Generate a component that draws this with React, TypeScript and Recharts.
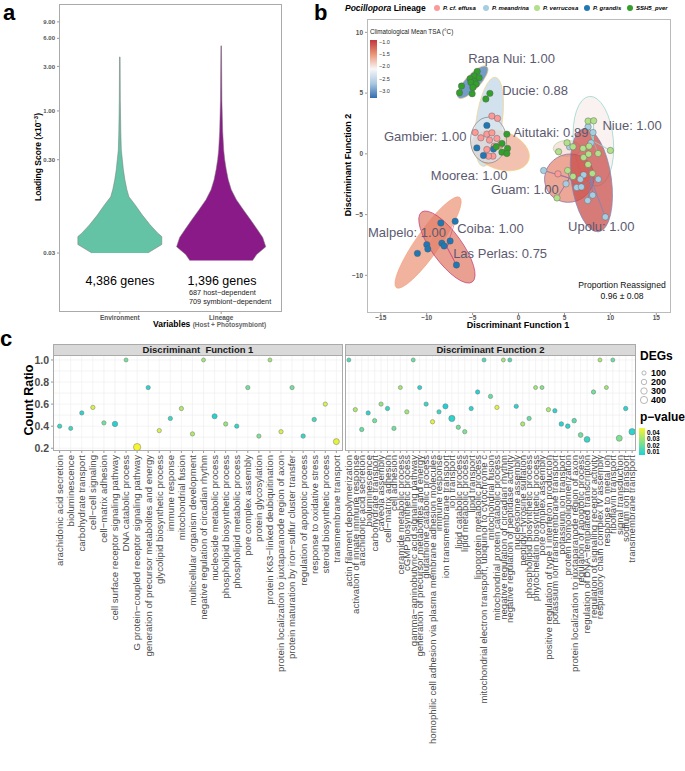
import React from "react";
import { ComposedChart, Area, XAxis, YAxis, ScatterChart, Scatter, CartesianGrid } from "recharts";

const FONT = "'Liberation Sans', Arial, Helvetica, sans-serif";

// ---------- panel a : violins ----------
const violinNames = ["Environment", "Lineage"];
const envLevels = [3.8, 1.3, 0.58, 0.38, 0.3, 0.235, 0.183, 0.143, 0.12, 0.099, 0.077, 0.06, 0.049, 0.045, 0.037, 0.03];
const envHalf = [0.003, 0.005, 0.01, 0.015, 0.025, 0.035, 0.05, 0.07, 0.09, 0.15, 0.22, 0.3, 0.375, 0.414, 0.414, 0.276];
const linLevels = [5.0, 1.3, 0.6, 0.38, 0.3, 0.235, 0.183, 0.143, 0.112, 0.087, 0.068, 0.053, 0.044, 0.035, 0.029, 0.025];
const linHalf = [0.003, 0.007, 0.015, 0.025, 0.035, 0.05, 0.07, 0.1, 0.15, 0.22, 0.29, 0.36, 0.41, 0.44, 0.35, 0.31];
const loadingTicks = [0.03, 0.3, 1, 3, 6, 9];
const geneCounts = ["4,386 genes", "1,396 genes"];
const lineageSplit = ["687 host\u2212dependent", "709 symbiont\u2212dependent"];

const envData = envLevels.map((y, i) => ({ y, w: [1 - envHalf[i], 1 + envHalf[i]] }));
const linData = linLevels.map((y, i) => ({ y, w: [2 - linHalf[i], 2 + linHalf[i]] }));

// ---------- panel b : DAPC ----------
const lineages = ["P. cf. effusa", "P. meandrina", "P. verrucosa", "P. grandis", "SSH5_pver"];
const lineageColors = ["#FB9A99", "#A6CEE3", "#B2DF8A", "#1F78B4", "#33A02C"];

const effusaPts = [
  { x: -2.9, y: 3.11 }, { x: -2.29, y: 2.92 }, { x: -4.72, y: 1.76 }, { x: -4.1, y: 1.32 }, { x: -3.45, y: 1.62 },
  { x: -2.9, y: 1.73 }, { x: -3.16, y: 1.13 }, { x: -2.36, y: 1.27 }, { x: -2.65, y: 0.63 }, { x: -3.45, y: 0.36 },
  { x: -2.79, y: -0.19 }, { x: -3.27, y: -0.19 }, { x: -2.0, y: 0.72 }, { x: 4.29, y: -1.65 },
];
const meandrinaPts = [
  { x: 7.57, y: 2.23 }, { x: 8.11, y: 1.76 }, { x: 5.56, y: 0.58 }, { x: 2.73, y: -1.37 }, { x: 7.09, y: -1.73 },
  { x: 8.69, y: -2.09 }, { x: 6.73, y: -2.09 }, { x: 5.17, y: -2.47 }, { x: 6.33, y: -2.77 }, { x: 6.84, y: -2.72 },
  { x: 8.07, y: -3.4 }, { x: 7.53, y: -3.84 }, { x: 9.45, y: -5.19 }, { x: 7.9, y: 0.9 },
];
const verrucosaPts = [
  { x: 7.57, y: 2.7 }, { x: 8.18, y: 2.72 }, { x: 5.28, y: 0.91 }, { x: 5.93, y: 0.58 }, { x: 7.02, y: 0.45 },
  { x: 7.68, y: 0.63 }, { x: 10.0, y: 0.28 }, { x: 4.36, y: 0.17 }, { x: 7.09, y: -0.3 }, { x: 8.66, y: 0.03 },
  { x: 7.63, y: -0.02 }, { x: 5.35, y: -1.37 }, { x: 5.93, y: -1.86 }, { x: 8.04, y: -1.62 }, { x: 4.19, y: -3.63 },
  { x: 7.57, y: -0.87 },
];
const grandisPts = [
  { x: -3.45, y: 2.34 }, { x: -4.54, y: 0.49 }, { x: -3.82, y: -0.13 }, { x: -2.73, y: 0.39 }, { x: -8.46, y: -5.69 },
  { x: -6.9, y: -5.55 }, { x: -9.99, y: -7.47 }, { x: -9.88, y: -7.83 }, { x: -8.35, y: -7.36 }, { x: -8.1, y: -7.58 },
  { x: -7.45, y: -7.17 }, { x: -11.01, y: -8.19 }, { x: -6.76, y: -9.15 },
];
const ssh5Pts = [
  { x: -4.5, y: 6.79 }, { x: -4.83, y: 6.41 }, { x: -5.27, y: 6.18 }, { x: -4.29, y: 6.27 }, { x: -4.8, y: 5.97 },
  { x: -5.19, y: 5.88 }, { x: -4.61, y: 5.75 }, { x: -6.21, y: 5.58 }, { x: -4.98, y: 5.47 }, { x: -6.43, y: 5.03 },
  { x: -5.05, y: 4.95 }, { x: -3.12, y: 4.98 }, { x: -3.56, y: 4.51 },
  { x: -1.27, y: 1.62 }, { x: -1.81, y: 0.86 }, { x: -1.2, y: 0.45 }, { x: -1.81, y: 0.14 }, { x: -1.27, y: 0.03 },
  { x: -2.43, y: 0.58 },
];
const lineagePts = [effusaPts, meandrinaPts, verrucosaPts, grandisPts, ssh5Pts];

const siteEllipses = [
  { site: "Niue", x: 8.15, y: 1.04, rx: 2.18, ry: 4.9, angle: -5, tsa: -1.95 },
  { site: "Ducie", x: -3.2, y: 2.64, rx: 1.42, ry: 4.9, angle: 8, tsa: -2.35 },
  { site: "Moorea", x: -1.98, y: 0.3, rx: 3.27, ry: 2.07, angle: 20, tsa: -1.6 },
  { site: "Gambier", x: -3.27, y: 1.13, rx: 1.96, ry: 2.5, angle: 0, tsa: -2.2 },
  { site: "Rapa Nui", x: -5.0, y: 5.9, rx: 2.3, ry: 0.8, angle: -47, tsa: -3.0 },
  { site: "Aitutaki", x: 5.28, y: 0.45, rx: 1.5, ry: 0.87, angle: 0, tsa: -1.85 },
  { site: "Guam", x: 5.53, y: -2.0, rx: 2.73, ry: 2.6, angle: -30, tsa: -1.4 },
  { site: "Upolu", x: 7.93, y: -2.17, rx: 2.18, ry: 5.67, angle: -8, tsa: -1.05 },
  { site: "Malpelo", x: -9.85, y: -7.3, rx: 6.0, ry: 1.3, angle: -55, tsa: -1.5 },
  { site: "Las Perlas", x: -7.8, y: -7.67, rx: 4.7, ry: 1.64, angle: 54, tsa: -1.35 },
];
const ellipseEdges: Record<string, string> = {
  Niue: "#8FD3C8", Ducie: "#F2D48A", Moorea: "#F5CF7A", Gambier: "#808080", "Rapa Nui": "#E8C57A",
  Aitutaki: "#A8D8A0", Guam: "#8E6FA8", Upolu: "#7A86B8", Malpelo: "#F4A582", "Las Perlas": "#C2417A",
};
// samples attached to each site centroid (thin spokes)
const siteSpokes = [
  { site: "Malpelo", members: [[-9.99, -7.47], [-9.88, -7.83], [-11.01, -8.19], [-8.46, -5.69]] },
  { site: "Las Perlas", members: [[-8.35, -7.36], [-8.1, -7.58], [-7.45, -7.17], [-6.76, -9.15], [-6.9, -5.55]] },
  { site: "Guam", members: [[5.17, -2.47], [6.33, -2.77], [2.73, -1.37], [4.19, -3.63], [5.35, -1.37], [4.29, -1.65]] },
  { site: "Upolu", members: [[8.69, -2.09], [8.07, -3.4], [7.53, -3.84], [9.45, -5.19], [6.84, -2.72], [8.04, -1.62], [7.57, -0.87]] },
  { site: "Niue", members: [[7.57, 2.23], [8.11, 1.76], [7.57, 2.7], [8.18, 2.72], [10.0, 0.28], [8.66, 0.03]] },
  { site: "Moorea", members: [[-1.27, 1.62], [-1.81, 0.86], [-1.2, 0.45], [-1.81, 0.14], [-2.0, 0.72], [-2.65, 0.63]] },
];
const siteLabels = [
  { text: "Rapa Nui: 1.00", x: -5.48, y: 7.86 },
  { text: "Ducie: 0.88", x: -1.78, y: 5.19 },
  { text: "Gambier: 1.00", x: -14.65, y: 1.4 },
  { text: "Aitutaki: 0.89", x: -0.58, y: 1.76 },
  { text: "Niue: 1.00", x: 9.13, y: 2.37 },
  { text: "Moorea: 1.00", x: -9.55, y: -1.76 },
  { text: "Guam: 1.00", x: -3.01, y: -2.93 },
  { text: "Upolu: 1.00", x: 5.39, y: -5.94 },
  { text: "Malpelo: 1.00", x: -16.39, y: -6.43 },
  { text: "Coiba: 1.00", x: -6.68, y: -6.1 },
  { text: "Las Perlas: 0.75", x: -7.12, y: -8.16 },
];
const tsaTicks = [-1.0, -1.5, -2.0, -2.5, -3.0];
const bXTicks = [-15, -10, -5, 0, 5, 10, 15];
const bYTicks = [-10, -5, 0, 5, 10];

// ---------- panel c : GO terms ----------
const df1Terms = [
  "arachidonic acid secretion", "bioluminescence", "carbohydrate transport", "cell\u2212cell signaling",
  "cell\u2212matrix adhesion", "cell surface receptor signaling pathway", "DNA catabolic process",
  "G protein\u2212coupled receptor signaling pathway", "generation of precursor metabolites and energy",
  "glycolipid biosynthetic process", "immune response", "mitochondrial fusion", "multicellular organism development",
  "negative regulation of circadian rhythm", "nucleoside metabolic process", "phospholipid biosynthetic process",
  "phospholipid metabolic process", "pore complex assembly", "protein glycosylation",
  "protein K63\u2212linked deubiquitination", "protein localization to juxtaparanode region of axon",
  "protein maturation by iron\u2212sulfur cluster transfer", "regulation of apoptotic process",
  "response to oxidative stress", "steroid biosynthetic process", "transmembrane transport",
];
const df1Ratio = [0.4, 0.38, 0.52, 0.57, 0.43, 0.42, 1.0, 0.21, 0.75, 0.36, 0.47, 0.56, 0.33, 1.0, 0.49, 0.42, 0.4, 0.75, 0.31, 1.0, 0.35, 0.75, 0.31, 0.46, 0.6, 0.26];
const df1P = [0.012, 0.013, 0.01, 0.04, 0.022, 0.009, 0.022, 0.045, 0.01, 0.04, 0.013, 0.033, 0.033, 0.03, 0.009, 0.028, 0.011, 0.022, 0.024, 0.03, 0.04, 0.022, 0.012, 0.014, 0.04, 0.042];
const df1Degs = [110, 100, 110, 110, 110, 200, 90, 420, 110, 110, 110, 110, 110, 90, 170, 110, 110, 110, 110, 90, 110, 110, 120, 120, 110, 260];

const df2Terms = [
  "actin filament depolymerization", "activation of innate immune response", "arachidonic acid secretion",
  "bioluminescence", "carbohydrate transport", "caveola assembly", "cell\u2212matrix adhesion", "cell adhesion",
  "ceramide metabolic process", "cGMP biosynthetic process", "gamma\u2212aminobutyric acid signaling pathway",
  "generation of precursor metabolites and energy", "glutathione catabolic process",
  "homophilic cell adhesion via plasma membrane adhesion molecules", "immune response",
  "ion transmembrane transport", "ion transport", "lipid catabolic process", "lipid metabolic process",
  "lipid transport", "lipoprotein metabolic process", "mitochondrial electron transport, ubiquinol to cytochrome c",
  "mitochondrial fusion", "mitochondrial protein catabolic process", "negative regulation of circadian rhythm",
  "negative regulation of peptidase activity", "nucleosome assembly", "peptidyl\u2212tyrosine sulfation",
  "phospholipid biosynthetic process", "phytochelatin biosynthetic process", "pore complex assembly",
  "positive regulation of type I interferon production", "potassium ion transmembrane transport",
  "potassium ion transport", "protein homooligomerization", "protein localization to juxtaparanode region of axon",
  "regulation of apoptotic process", "regulation of DNA\u2212templated transcription",
  "regulation of signaling receptor activity", "respiratory chain complex IV assembly", "response to metal ion",
  "riboflavin transport", "signal transduction", "sodium ion transport", "transmembrane transport",
];
const df2Ratio = [1.0, 0.55, 0.37, 0.52, 0.45, 0.6, 0.56, 0.38, 0.75, 0.53, 1.0, 0.75, 0.6, 0.44, 0.53, 0.58, 0.47, 0.39, 0.35, 0.56, 0.71, 1.0, 0.67, 0.57, 1.0, 1.0, 0.58, 0.42, 0.47, 0.75, 0.75, 0.55, 0.54, 0.42, 0.4, 0.45, 0.32, 0.28, 0.71, 1.0, 0.75, 1.0, 0.29, 0.56, 0.35];
const df2P = [0.016, 0.032, 0.02, 0.01, 0.022, 0.028, 0.012, 0.022, 0.03, 0.03, 0.02, 0.01, 0.012, 0.042, 0.012, 0.008, 0.01, 0.022, 0.024, 0.01, 0.009, 0.016, 0.02, 0.042, 0.03, 0.016, 0.01, 0.032, 0.02, 0.03, 0.025, 0.032, 0.01, 0.009, 0.01, 0.018, 0.022, 0.012, 0.022, 0.032, 0.03, 0.02, 0.024, 0.01, 0.01];
const df2Degs = [90, 110, 110, 110, 110, 110, 110, 110, 90, 110, 90, 100, 110, 110, 110, 180, 280, 110, 110, 110, 110, 90, 110, 110, 90, 90, 110, 110, 110, 90, 90, 110, 110, 130, 130, 130, 150, 240, 110, 90, 90, 90, 260, 120, 300];
const degsLegend = [100, 200, 300, 400];
const pLegend = [0.04, 0.03, 0.02, 0.01];

// ---------- helpers ----------
const mix = (a: number[], b: number[], t: number) =>
  `rgb(${a.map((v, k) => Math.round(v + (b[k] - v) * t)).join(",")})`;

const tsaStops: [number, number[]][] = [
  [-0.95, [192, 55, 58]], [-1.5, [236, 150, 120]], [-2.0, [247, 247, 247]], [-2.5, [170, 200, 226]], [-3.05, [50, 110, 175]],
];
function tsaColor(v: number) {
  if (v >= tsaStops[0][0]) return mix(tsaStops[0][1], tsaStops[0][1], 0);
  for (let k = 0; k < tsaStops.length - 1; k++) {
    const [v0, c0] = tsaStops[k];
    const [v1, c1] = tsaStops[k + 1];
    if (v <= v0 && v >= v1) return mix(c0, c1, (v0 - v) / (v0 - v1));
  }
  return mix(tsaStops[4][1], tsaStops[4][1], 0);
}
const pLow = [31, 209, 214];
const pHigh = [245, 245, 49];
const pColor = (p: number) => mix(pLow, pHigh, Math.max(0, Math.min(1, (p - 0.008) / 0.037)));
const degRadius = (d: number) => 0.6 + 0.15 * Math.sqrt(d);

const abs = (left: number, top: number, extra: React.CSSProperties = {}): React.CSSProperties => ({
  position: "absolute", left, top, ...extra,
});

// ---------- panel a ----------
function PanelA() {
  return (
    <div style={abs(0, 0, { width: 300, height: 330 })}>
      <ComposedChart layout="vertical" width={300} height={330} margin={{ top: 4, right: 18, bottom: 6, left: 39 }}>
        <XAxis type="number" dataKey="w" domain={[0.4, 2.6]} ticks={[1, 2]} height={12} tickSize={2} tickMargin={1}
          axisLine={false} tickLine={{ stroke: "#999" }} interval={0}
          tickFormatter={(v: number) => violinNames[v - 1]}
          tick={{ fontSize: 6.5, fill: "#555", fontWeight: "bold", fontFamily: FONT }} />
        <YAxis type="number" dataKey="y" scale="log" domain={[0.007, 14]} allowDataOverflow ticks={loadingTicks} reversed
          width={20} tickSize={2} axisLine={false} tickLine={{ stroke: "#999" }} interval={0}
          tickFormatter={(v: number) => v.toFixed(2)}
          tick={{ fontSize: 6, fill: "#555", fontWeight: "bold", fontFamily: FONT }} />
        <Area data={envData} dataKey="w" type="linear" fill="#65C3A5" fillOpacity={1} stroke="#777" strokeWidth={0.5} isAnimationActive={false} />
        <Area data={linData} dataKey="w" type="linear" fill="#8B1A89" fillOpacity={1} stroke="#777" strokeWidth={0.5} isAnimationActive={false} />
      </ComposedChart>
      <div style={abs(59, 4, { width: 223, height: 308, border: "1px solid #AAA", boxSizing: "border-box", pointerEvents: "none" })} />
      <div style={abs(80, 274, { width: 80, textAlign: "center", fontSize: 12.5 })}>{geneCounts[0]}</div>
      <div style={abs(182, 274, { width: 80, textAlign: "center", fontSize: 12.5 })}>{geneCounts[1]}</div>
      <div style={abs(189, 289, { fontSize: 7.3, lineHeight: "8.6px", color: "#222" })}>
        {lineageSplit[0]}<br />{lineageSplit[1]}
      </div>
      <div style={abs(153, 319, { fontSize: 8.5, fontWeight: "bold", whiteSpace: "nowrap" })}>
        Variables <span style={{ fontSize: 6.5, color: "#666" }}>(Host + Photosymbiont)</span>
      </div>
      <div style={abs(38, 157, { transform: "translate(-50%,-50%) rotate(-90deg)", fontSize: 8.5, fontWeight: "bold", whiteSpace: "nowrap" })}>
        Loading Score (x10<sup style={{ fontSize: 6 }}>{"\u22123"}</sup>)
      </div>
      <div style={abs(3, 0, { fontSize: 22, fontWeight: "bold", lineHeight: "26px" })}>a</div>
    </div>
  );
}

// ---------- panel b ----------
const B_PLOT_W = 304;
const bXDomain = [-16.5, 16.6];
const bYDomain = [-13.1, 11.1];
const pxPerX = B_PLOT_W / (bXDomain[1] - bXDomain[0]);

const ellipseShape = (p: any) => {
  const e = p.payload;
  return (
    <ellipse cx={p.cx} cy={p.cy} rx={e.rx * pxPerX} ry={e.ry * pxPerX}
      transform={`rotate(${e.angle} ${p.cx} ${p.cy})`} fill={tsaColor(e.tsa)} fillOpacity={0.72}
      stroke={ellipseEdges[e.site]} strokeWidth={0.7} />
  );
};
const labelShape = (p: any) => (
  <text x={p.cx} y={p.cy} dy="0.35em" fontSize={13} fill="#5C5A70" fontFamily={FONT}>{p.payload.text}</text>
);
const dotShape = (color: string) => (p: any) => (
  <circle cx={p.cx} cy={p.cy} r={3.2} fill={color} stroke="#555" strokeWidth={0.4} />
);
const noShape = () => <g />;
const minusFmt = (v: number) => (v < 0 ? "\u2212" + Math.abs(v) : String(v));

const spokeData = siteSpokes.map((s) => {
  const c = siteEllipses.find((e) => e.site === s.site)!;
  return s.members.flatMap(([x, y]) => [{ x: c.x, y: c.y }, { x, y }]);
});

function PanelB() {
  const legendX = [437, 486, 537, 587, 630];
  return (
    <div style={abs(300, 0, { width: 385, height: 330 })}>
      <ScatterChart width={385} height={330} margin={{ top: 19, right: 14, bottom: 5, left: 47 }}>
        <XAxis type="number" dataKey="x" domain={bXDomain} allowDataOverflow ticks={bXTicks} height={12} tickSize={2} tickMargin={0}
          axisLine={false} tickLine={{ stroke: "#999" }} interval={0}
          tick={{ fontSize: 6.5, fill: "#555", fontWeight: "bold", fontFamily: FONT }} tickFormatter={minusFmt} />
        <YAxis type="number" dataKey="y" domain={bYDomain} allowDataOverflow ticks={bYTicks} width={20} tickSize={2}
          axisLine={false} tickLine={{ stroke: "#999" }} interval={0}
          tick={{ fontSize: 6.5, fill: "#555", fontWeight: "bold", fontFamily: FONT }} tickFormatter={minusFmt} />
        <Scatter data={siteEllipses} shape={ellipseShape} isAnimationActive={false} />
        {spokeData.map((d, k) => (
          <Scatter key={siteSpokes[k].site} data={d} shape={noShape} isAnimationActive={false}
            line={{ stroke: ellipseEdges[siteSpokes[k].site], strokeWidth: 0.6, strokeOpacity: 0.9 }} />
        ))}
        {lineagePts.map((pts, k) => (
          <Scatter key={lineages[k]} data={pts} shape={dotShape(lineageColors[k])} isAnimationActive={false} />
        ))}
        <Scatter data={siteLabels} shape={labelShape} isAnimationActive={false} />
      </ScatterChart>
      <div style={abs(67, 19, { width: 304, height: 294, border: "1px solid #BBB", boxSizing: "border-box", pointerEvents: "none" })} />
      {/* TSA colour bar */}
      <div style={abs(70, 28, { fontSize: 6.3, color: "#222", whiteSpace: "nowrap" })}>Climatological Mean TSA (°C)</div>
      <div style={abs(70, 40, {
        width: 7, height: 58,
        background: `linear-gradient(to bottom, ${tsaColor(-0.95)}, ${tsaColor(-1.5)}, ${tsaColor(-2.0)}, ${tsaColor(-2.5)}, ${tsaColor(-3.05)})`,
      })} />
      {tsaTicks.map((t, k) => (
        <div key={t} style={abs(79, 39 + k * 12.2, { fontSize: 5.5, color: "#333", lineHeight: "6px" })}>
          {"\u2212" + Math.abs(t).toFixed(1)}
        </div>
      ))}
      {/* lineage legend */}
      <div style={abs(45, 3, { fontSize: 8.5, fontWeight: "bold", whiteSpace: "nowrap" })}>
        <i>Pocillopora</i> Lineage
      </div>
      {lineages.map((name, k) => (
        <div key={name} style={abs(legendX[k] - 300 - 3, 4.5, { display: "flex", alignItems: "center", whiteSpace: "nowrap" })}>
          <span style={{ width: 6, height: 6, borderRadius: 3, background: lineageColors[k], display: "inline-block", marginRight: 3 }} />
          <span style={{ fontSize: 6, fontStyle: "italic", fontWeight: "bold" }}>{name}</span>
        </div>
      ))}
      <div style={abs(272, 280, { width: 100, textAlign: "center", fontSize: 8.6, lineHeight: "10.5px", color: "#111" })}>
        Proportion Reassigned<br />0.96 ± 0.08
      </div>
      <div style={abs(218, 320, { width: 0, display: "flex", justifyContent: "center", fontSize: 9, fontWeight: "bold", whiteSpace: "nowrap" })}>
        <span>Discriminant Function 1</span>
      </div>
      <div style={abs(48, 165, { transform: "translate(-50%,-50%) rotate(-90deg)", fontSize: 9, fontWeight: "bold", whiteSpace: "nowrap" })}>
        Discriminant Function 2
      </div>
      <div style={abs(14, 0, { fontSize: 22, fontWeight: "bold", lineHeight: "26px" })}>b</div>
    </div>
  );
}

// ---------- panel c ----------
const termTick = (terms: string[]) => (props: any) => {
  const { x, y, payload } = props;
  return (
    <text x={x} y={y} transform={`rotate(-90 ${x} ${y})`} textAnchor="end" dy="0.35em"
      fontSize={9.6} fill="#4D4D4D" fontFamily={FONT}>
      {terms[payload.value - 1]}
    </text>
  );
};
const termDot = (p: any) => (
  <circle cx={p.cx} cy={p.cy} r={degRadius(p.payload.degs)} fill={pColor(p.payload.p)} stroke="#777" strokeWidth={0.5} />
);
const ratioTicks = [0.2, 0.4, 0.6, 0.8, 1.0];
const ratioGrid = [0.2, 0.3, 0.4, 0.5, 0.6, 0.7, 0.8, 0.9, 1.0];

function TermPanel({ terms, ratio, p, degs, left, plotLeft, plotW, showY, title }: {
  terms: string[]; ratio: number[]; p: number[]; degs: number[]; left: number; plotLeft: number; plotW: number; showY: boolean; title: string;
}) {
  const data = terms.map((t, i) => ({ i: i + 1, ratio: ratio[i], p: p[i], degs: degs[i] }));
  const idx = terms.map((_, i) => i + 1);
  const yW = showY ? 25 : 0;
  const mLeft = plotLeft - left - yW;
  const width = plotLeft - left + plotW + 6;
  return (
    <>
      <div style={abs(left, 355, { width, height: 416 })}>
        <ScatterChart width={width} height={416} margin={{ top: 0, right: 6, bottom: 0, left: mLeft }}>
          <CartesianGrid stroke="#ECECEC" strokeWidth={0.6} horizontalValues={ratioGrid} verticalValues={idx} />
          <XAxis type="number" dataKey="i" domain={[0.4, terms.length + 0.6]} ticks={idx} interval={0}
            height={320} tickSize={2} axisLine={false} tickLine={{ stroke: "#999" }} tick={termTick(terms)} />
          <YAxis type="number" dataKey="ratio" domain={[0.175, 1.045]} allowDataOverflow ticks={ratioTicks} hide={!showY}
            width={yW} tickSize={2} axisLine={false} tickLine={{ stroke: "#999" }} interval={0}
            tickFormatter={(v: number) => v.toFixed(1)}
            tick={{ fontSize: 10.5, fill: "#4D4D4D", fontWeight: "bold", fontFamily: FONT }} />
          <Scatter data={data} shape={termDot} isAnimationActive={false} />
        </ScatterChart>
      </div>
      <div style={abs(plotLeft, 355, { width: plotW, height: 96, border: "1px solid #AAA", boxSizing: "border-box", pointerEvents: "none" })} />
      <div style={abs(plotLeft, 344, {
        width: plotW, height: 12, background: "#D9D9D9", border: "1px solid #AAA", boxSizing: "border-box",
        fontSize: 9.5, fontWeight: "bold", textAlign: "center", lineHeight: "10px", color: "#1A1A1A", whiteSpace: "pre",
      })}>{title}</div>
    </>
  );
}

function PanelC() {
  return (
    <>
      <TermPanel terms={df2Terms} ratio={df2Ratio} p={df2P} degs={df2Degs} left={330} plotLeft={345} plotW={291} showY={false} title={"Discriminant Function 2"} />
      <TermPanel terms={df1Terms} ratio={df1Ratio} p={df1P} degs={df1Degs} left={0} plotLeft={53} plotW={290} showY title={"Discriminant  Function 1"} />
      <div style={abs(29, 400, { transform: "translate(-50%,-50%) rotate(-90deg)", fontSize: 12.5, fontWeight: "bold", whiteSpace: "nowrap" })}>
        Count Ratio
      </div>
      <div style={abs(0, 326, { fontSize: 22, fontWeight: "bold", lineHeight: "26px" })}>c</div>
      {/* DEGs legend */}
      <div style={abs(640, 349, { fontSize: 12, fontWeight: "bold" })}>DEGs</div>
      <svg style={abs(638, 366)} width={14} height={40}>
        {degsLegend.map((d, k) => (
          <circle key={d} cx={6} cy={7 + k * 9} r={degRadius(d)} fill="none" stroke="#888" strokeWidth={0.6} />
        ))}
      </svg>
      {degsLegend.map((d, k) => (
        <div key={d} style={abs(651, 368 + k * 9, { fontSize: 9, fontWeight: "bold", lineHeight: "10px" })}>{d}</div>
      ))}
      <div style={abs(640, 410, { fontSize: 12, fontWeight: "bold" })}>p{"\u2212"}value</div>
      <div style={abs(639, 428, { width: 6, height: 27, background: `linear-gradient(to bottom, ${pColor(0.045)}, ${pColor(0.008)})` })} />
      {pLegend.map((v, k) => (
        <div key={v} style={abs(647, 429 + k * 6.3, { fontSize: 6.5, fontWeight: "bold", lineHeight: "7px" })}>{v.toFixed(2)}</div>
      ))}
    </>
  );
}

export default function App() {
  return (
    <div style={{ position: "absolute", left: 0, top: 0, width: 685, height: 771, background: "#fff", fontFamily: FONT, overflow: "hidden" }}>
      <PanelA />
      <PanelB />
      <PanelC />
    </div>
  );
}
